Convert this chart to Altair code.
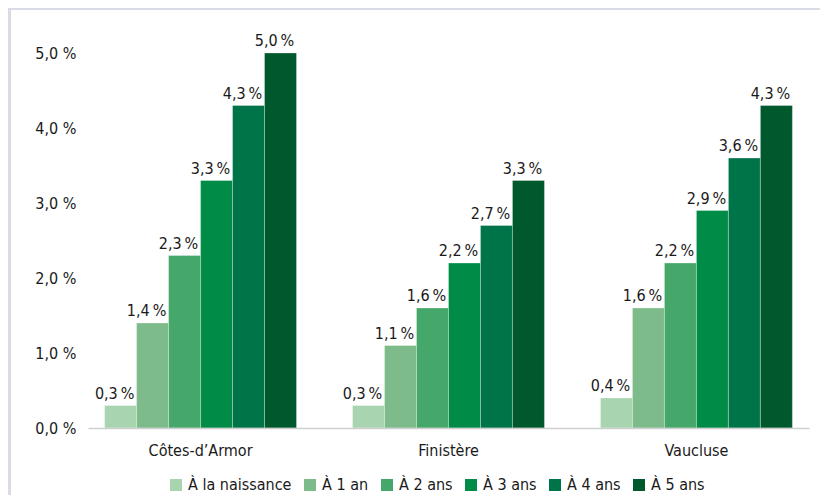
import altair as alt
import pandas as pd

depts = ["Côtes-d’Armor", "Finistère", "Vaucluse"]
series = ["À la naissance", "À 1 an", "À 2 ans", "À 3 ans", "À 4 ans", "À 5 ans"]
cotes = [0.3, 1.4, 2.3, 3.3, 4.3, 5.0]
finistere = [0.3, 1.1, 1.6, 2.2, 2.7, 3.3]
vaucluse = [0.4, 1.6, 2.2, 2.9, 3.6, 4.3]
colors = ["#a8d5b0", "#7dbb8b", "#46a76a", "#008c47", "#007449", "#00582d"]
y_ticks = [0, 1, 2, 3, 4, 5]

rows = []
for d, vals in zip(depts, [cotes, finistere, vaucluse]):
    for s, v in zip(series, vals):
        rows.append({"dept": d, "serie": s, "value": v})
df = pd.DataFrame(rows)

FONT = "Liberation Sans Narrow, DejaVu Sans Condensed, Roboto Condensed, sans-serif"
FS = 16
W, H = 721, 375

panel = alt.Chart(pd.DataFrame({"a": [0]})).mark_rect(color="white").encode(
    x=alt.value(-77), x2=alt.value(W + 20), y=alt.value(-43), y2=alt.value(H + 80)
)

base = alt.Chart(df).encode(
    x=alt.X("dept:N", sort=depts, title=None,
            scale=alt.Scale(paddingInner=0.226, paddingOuter=0.067),
            axis=alt.Axis(labelAngle=0, ticks=False, domainColor="#cfcfcf", domainWidth=1.5,
                          labelFontSize=FS, labelFont=FONT, labelColor="#1a1a1a",
                          labelPadding=14, grid=False, zindex=2)),
    xOffset=alt.XOffset("serie:N", sort=series,
                        scale=alt.Scale(paddingInner=0, paddingOuter=0)),
    y=alt.Y("value:Q", title=None,
            scale=alt.Scale(domain=[0, 5], nice=False),
            axis=alt.Axis(values=y_ticks, domain=False, ticks=False, grid=False,
                          labelExpr="replace(format(datum.value, '.1f'), '.', ',') + ' %'",
                          labelFontSize=FS, labelFont=FONT, labelColor="#1a1a1a",
                          labelPadding=12, zindex=2)),
)

bars = base.mark_bar(stroke="white", strokeWidth=0.6, strokeOpacity=0.5).encode(
    color=alt.Color("serie:N", sort=series,
                    scale=alt.Scale(domain=series, range=colors),
                    legend=alt.Legend(orient="none", legendX=80, legendY=424,
                                      direction="horizontal", title=None,
                                      symbolType="square", symbolSize=144,
                                      symbolStrokeWidth=0, labelFontSize=FS,
                                      labelFont=FONT, labelColor="#1a1a1a",
                                      labelOffset=4, columnPadding=10, zindex=2))
)

labels = base.transform_calculate(
    label="replace(format(datum.value, '.1f'), '.', ',') + '\u2009%'"
).mark_text(baseline="bottom", dy=-4, dx=-6, fontSize=FS, font=FONT, color="#1a1a1a").encode(
    text="label:N"
)

chart = alt.layer(panel, bars, labels).properties(
    width=W, height=H,
    autosize=alt.AutoSizeParams(type="none"),
    padding={"left": 80, "top": 45, "right": 11, "bottom": 67},
    background="#d9dce6",
).configure_view(stroke=None)

chart.save("out.html", embed_options={"renderer": "svg", "actions": False})
